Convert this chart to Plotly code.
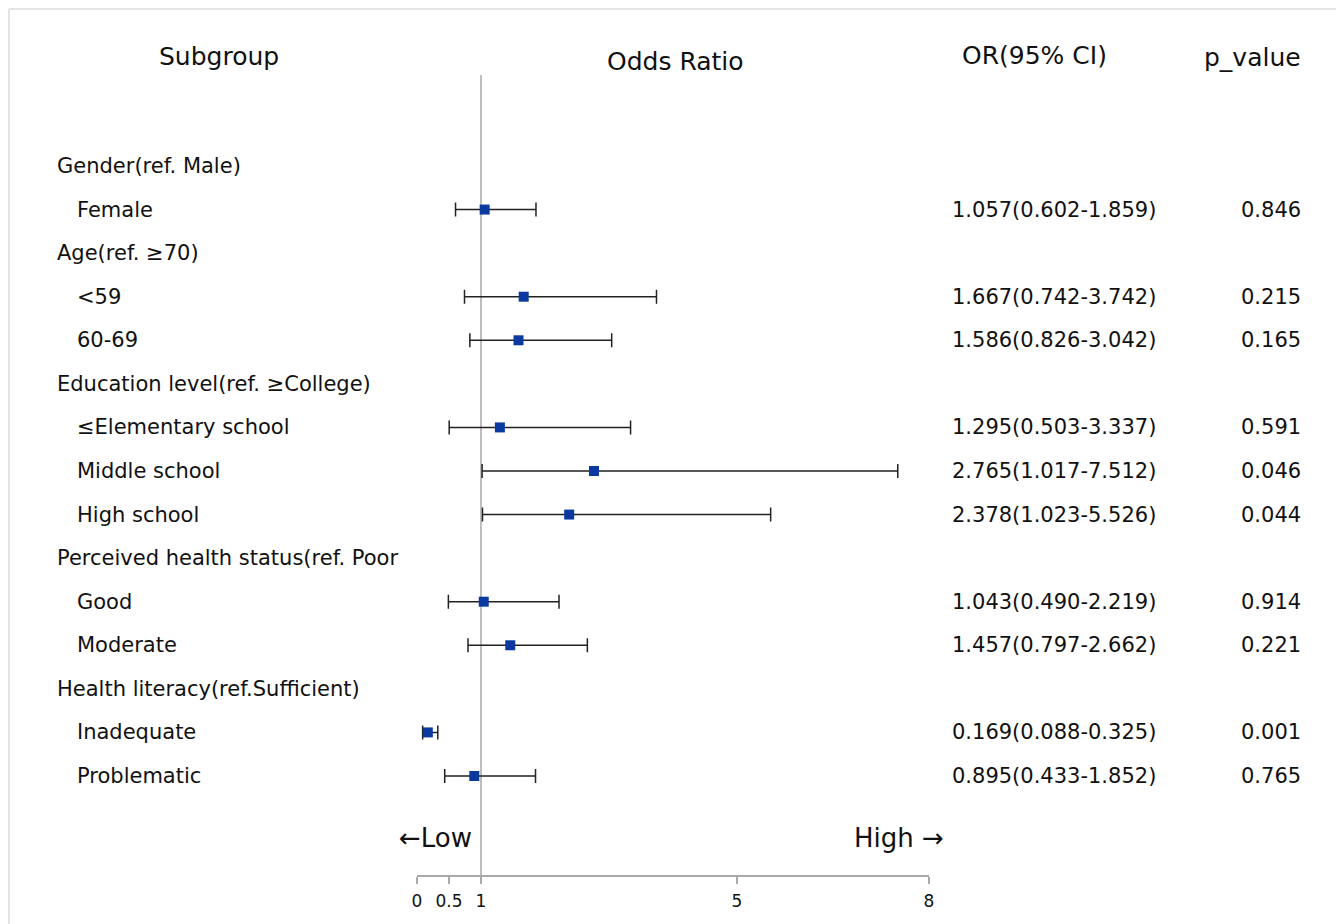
import plotly.graph_objects as go

# ---------------- data ----------------
rows = [
    "Gender(ref. Male)", "Female",
    "Age(ref. \u226570)", "<59", "60-69",
    "Education level(ref. \u2265College)", "\u2264Elementary school", "Middle school", "High school",
    "Perceived health status(ref. Poor", "Good", "Moderate",
    "Health literacy(ref.Sufficient)", "Inadequate", "Problematic",
]
is_header = [True, False, True, False, False, True, False, False, False,
             True, False, False, True, False, False]
or_vals = [None, 1.057, None, 1.667, 1.586, None, 1.295, 2.765, 2.378,
           None, 1.043, 1.457, None, 0.169, 0.895]
ci_low = [None, 0.602, None, 0.742, 0.826, None, 0.503, 1.017, 1.023,
          None, 0.490, 0.797, None, 0.088, 0.433]
ci_high = [None, 1.859, None, 3.742, 3.042, None, 3.337, 7.512, 5.526,
           None, 2.219, 2.662, None, 0.325, 1.852]
p_values = [None, "0.846", None, "0.215", "0.165", None, "0.591", "0.046", "0.044",
            None, "0.914", "0.221", None, "0.001", "0.765"]
tick_vals = [0, 0.5, 1, 5, 8]
tick_text = ["0", "0.5", "1", "5", "8"]
col_headers = ["Subgroup", "Odds Ratio", "OR(95% CI)", "p_value"]

# ---------------- layout geometry (page pixels of the target) ----------------
W, H = 1344, 924
OFF = 8                     # browser body margin
PL, PR = 417, 929           # plot area pixel bounds (x=0 .. x=8)
PT, PB = 75, 875            # top of reference line .. axis line
ROW0, ROWSTEP = 166, 43.57

def px(p):
    return (p - PL) / (PR - PL)

def py(p):
    return (PB - p) / (PB - PT)

FONT = "DejaVu Sans, Verdana, sans-serif"
body_font = dict(family=FONT, size=21, color="#111")
head_font = dict(family=FONT, size=25, color="#111")

idx = [i for i in range(len(rows)) if or_vals[i] is not None]
xs = [or_vals[i] for i in idx]
ys = [i for i in idx]
plus = [ci_high[i] - or_vals[i] for i in idx]
minus = [or_vals[i] - ci_low[i] for i in idx]

fig = go.Figure()
fig.add_trace(go.Scatter(
    x=xs, y=ys, mode="markers",
    marker=dict(symbol="square", size=10, color="#0a3aa0", line=dict(width=0)),
    error_x=dict(type="data", symmetric=False, array=plus, arrayminus=minus,
                 color="#222", thickness=1.5, width=7),
    showlegend=False, hoverinfo="skip",
))

ann = []
for i, label in enumerate(rows):
    ann.append(dict(x=px(55 if is_header[i] else 75), xref="paper", y=i, yref="y",
                    text=label, showarrow=False, xanchor="left", yanchor="middle",
                    font=body_font))
    if or_vals[i] is not None:
        ann.append(dict(x=px(950), xref="paper", y=i, yref="y",
                        text=f"{or_vals[i]:.3f}({ci_low[i]:.3f}-{ci_high[i]:.3f})",
                        showarrow=False, xanchor="left", yanchor="middle", font=body_font))
        ann.append(dict(x=px(1303), xref="paper", y=i, yref="y",
                        text=p_values[i], showarrow=False, xanchor="right",
                        yanchor="middle", font=body_font))

# column headers: (x, anchor, y)
head_pos = [(219, "center", 56), (675, "center", 62), (1034, "center", 55), (1303, "right", 57)]
for t, (hx, anc, hy) in zip(col_headers, head_pos):
    ann.append(dict(x=px(hx), xref="paper", y=py(hy), yref="paper", text=t, showarrow=False,
                    xanchor=anc, yanchor="middle", font=head_font))

# direction labels
dir_font = dict(family=FONT, size=26, color="#111")
ann.append(dict(x=px(474), xref="paper", y=py(838), yref="paper", text="\u2190Low",
                showarrow=False, xanchor="right", yanchor="middle", font=dir_font))
ann.append(dict(x=px(946), xref="paper", y=py(838), yref="paper", text="High \u2192",
                showarrow=False, xanchor="right", yanchor="middle", font=dir_font))

y_top = (PT - ROW0) / ROWSTEP
y_bot = (PB - ROW0) / ROWSTEP

frame = dict(color="#e4e4e4", width=2)
shapes = [
    dict(type="line", xref="x", yref="paper", x0=1, x1=1, y0=0, y1=1,
         line=dict(color="#a8a8a8", width=1.5), layer="below"),
    dict(type="line", xref="paper", yref="paper", x0=px(9), x1=px(9), y0=py(924), y1=py(9), line=frame),
    dict(type="line", xref="paper", yref="paper", x0=px(9), x1=px(1337), y0=py(9), y1=py(9), line=frame),
    dict(type="line", xref="paper", yref="paper", x0=px(1337), x1=px(1337), y0=py(924), y1=py(9), line=frame),
]

fig.update_layout(
    width=W, height=H,
    margin=dict(l=PL - OFF, r=W - (PR - OFF), t=PT - OFF, b=H - (PB - OFF), pad=0),
    paper_bgcolor="white", plot_bgcolor="white",
    xaxis=dict(range=[0, 8], tickvals=tick_vals, ticktext=tick_text, showgrid=False,
               zeroline=False, showline=True, linecolor="#a8a8a8", linewidth=1.5,
               ticks="outside", ticklen=7, tickcolor="#a8a8a8", tickwidth=1.5,
               ticklabelstandoff=3,
               tickfont=dict(family=FONT, size=17, color="#111")),
    yaxis=dict(range=[y_bot, y_top], showgrid=False, zeroline=False, showline=False,
               showticklabels=False, ticks=""),
    annotations=ann, shapes=shapes,
)

fig.write_html("out.html")
